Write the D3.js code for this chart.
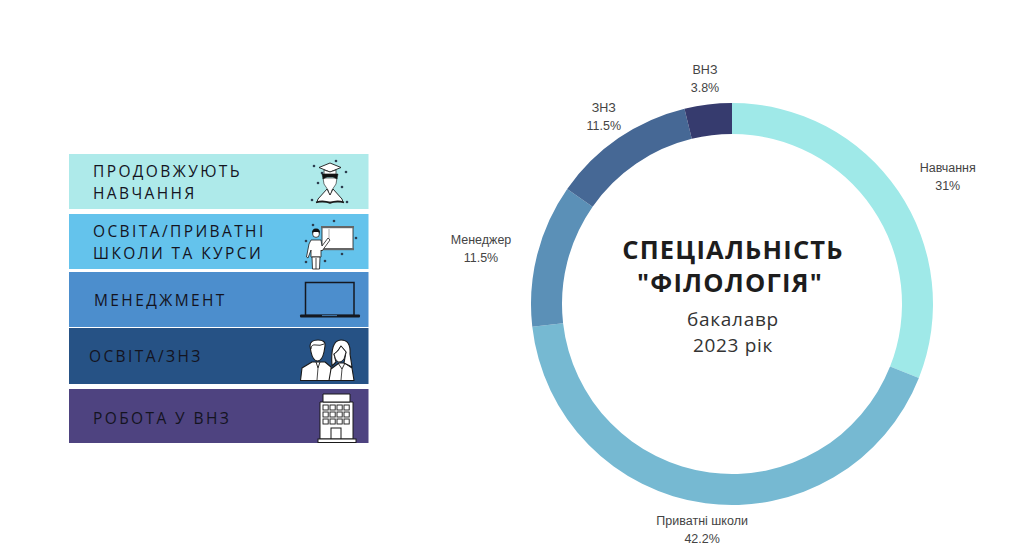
<!DOCTYPE html>
<html lang="uk">
<head>
<meta charset="utf-8">
<title>Спеціальність "Філологія"</title>
<script src="https://cdn.jsdelivr.net/npm/d3@7"></script>
<style>
html,body{margin:0;padding:0;background:#fff;overflow:hidden}
svg{display:block}
</style>
</head>
<body>
<svg id="chart" width="1024" height="547"></svg>
<script>
// Destinations of the graduates, clockwise from twelve o'clock
const sliceNames = ["Навчання", "Приватні школи", "Менеджер", "ЗНЗ", "ВНЗ"];
const sliceValues = [31, 42.2, 11.5, 11.5, 3.8];
const sliceColors = ["#9fe9e8", "#76b9d2", "#5b90b7", "#466895", "#363b6e"];

// Legend panel rows
const rowLines = [
  ["ПРОДОВЖУЮТЬ", "НАВЧАННЯ"],
  ["ОСВІТА/ПРИВАТНІ", "ШКОЛИ ТА КУРСИ"],
  ["МЕНЕДЖМЕНТ"],
  ["ОСВІТА/ЗНЗ"],
  ["РОБОТА У ВНЗ"]
];
const rowColors = ["#aeeaea", "#64c3ec", "#4c8ecd", "#265285", "#4e4380"];
const rowTops = [154, 214, 272, 328, 389];
const rowBottoms = [209, 269, 327, 384, 443];
const rowTextX = [93, 93, 94, 89, 93];
const rowTextShift = [0, 0, 0, 0, 1.5];

const titleLines = ["СПЕЦІАЛЬНІСТЬ", "\"ФІЛОЛОГІЯ\""];
const subtitleLines = ["бакалавр", "2023 рік"];

const svg = d3.select("#chart");
const sans = "'Open Sans', sans-serif";

// Donut
const cx = 732, cy = 304, outerR = 201, innerR = 170;
const pie = d3.pie().sort(null).value(d => d.value);
const arc = d3.arc().innerRadius(innerR).outerRadius(outerR);
const slices = pie(sliceValues.map((value, i) => ({ value, name: sliceNames[i], color: sliceColors[i] })));
const donut = svg.append("g").attr("transform", `translate(${cx},${cy})`);
donut.selectAll("path").data(slices).join("path")
  .attr("d", arc).attr("fill", d => d.data.color);

// Slice labels sit just outside the ring, nudged clear of the stroke
const labelArc = d3.arc().innerRadius(outerR + 26).outerRadius(outerR + 26);
const labelOffset = [[28, -4], [0, -4], [-31, -4], [0, -5], [0, -5]];
const labels = donut.selectAll("text").data(slices).join("text")
  .attr("text-anchor", "middle")
  .attr("font-family", "'Liberation Sans', Arial, sans-serif")
  .attr("font-size", 12.5)
  .attr("fill", "#444");
labels.each(function (d, i) {
  const [x, y] = labelArc.centroid(d);
  const t = d3.select(this);
  const px = x + labelOffset[i][0], py = y + labelOffset[i][1];
  t.append("tspan").attr("x", px).attr("y", py).text(d.data.name);
  t.append("tspan").attr("x", px).attr("y", py + 18).text(d.data.value + "%");
});

// Centre caption
const caption = svg.append("g").attr("text-anchor", "middle").attr("font-family", sans);
caption.selectAll("text.title").data(titleLines).join("text")
  .attr("class", "title")
  .attr("x", (d, i) => i ? 730 : 733).attr("y", (d, i) => 259 + i * 33)
  .attr("font-size", 25.5).attr("font-weight", 700)
  .attr("letter-spacing", 1.2).attr("fill", "#1d1d1d").text(d => d);
caption.selectAll("text.sub").data(subtitleLines).join("text")
  .attr("class", "sub")
  .attr("x", 733).attr("y", (d, i) => 326 + i * 26)
  .attr("font-size", 19).attr("letter-spacing", 0.7)
  .attr("fill", "#333").text(d => d);

// Legend panel
const rows = svg.append("g").selectAll("g").data(rowLines).join("g");
rows.append("rect")
  .attr("x", 69).attr("width", 299.5)
  .attr("y", (d, i) => rowTops[i])
  .attr("height", (d, i) => rowBottoms[i] - rowTops[i])
  .attr("fill", (d, i) => rowColors[i]);
rows.each(function (lines, i) {
  const mid = (rowTops[i] + rowBottoms[i]) / 2 + rowTextShift[i];
  const lineGap = 22;
  d3.select(this).selectAll("text").data(lines).join("text")
    .attr("x", rowTextX[i])
    .attr("y", (d, j) => mid + 6 + (j - (lines.length - 1) / 2) * lineGap)
    .attr("font-family", sans).attr("font-size", 15.5)
    .attr("letter-spacing", 2.4).attr("fill", "#14141f").text(d => d);
});

// Pictograms, one per legend row
const ink = "#1a1a1a";
function dots(g, pts, r) {
  g.selectAll("circle.dot").data(pts).join("circle").attr("class", "dot")
    .attr("cx", d => d[0]).attr("cy", d => d[1]).attr("r", r || 1.3).attr("fill", "#2c3e50");
}
function shape(g, d, fill, sw) {
  return g.append("path").attr("d", d).attr("fill", fill || "#fff")
    .attr("stroke", ink).attr("stroke-width", sw === undefined ? 1 : sw).attr("stroke-linejoin", "round");
}

// Graduate with an open book
const grad = svg.append("g");
dots(grad, [[314, 166], [336, 161], [346, 172], [318, 183], [342, 187], [312, 200], [347, 202], [322, 173]]);
shape(grad, "M323 178 H337 L336 184 L332 190 L331 195 H329 L328 190 L324 184 Z", "#fff", 0.6);
shape(grad, "M322 174 H338 L337 179 L333 177 H327 L323 179 Z", "#111", 0.5);
shape(grad, "M330 163 L341 167.5 L330 172 L319 167.5 Z", "#fff", 0.9);
shape(grad, "M324 170 V174 H336 V170 L330 172 Z", "#fff", 0.7);
shape(grad, "M327 189 L330 195 L333 189 L342 199 L343 202 H317 L318 199 Z", "#fff", 0.9);
shape(grad, "M316 202.5 Q323 200 330 203 Q337 200 344 202.5", "none", 1.5);

// Teacher at a board
const teacher = svg.append("g");
dots(teacher, [[313, 225], [334, 221], [356, 238], [306, 241], [342, 254], [306, 262], [325, 261]]);
shape(teacher, "M322 227 H353 V249 H322 Z", "#fff", 0.8);
teacher.append("rect").attr("x", 321).attr("y", 226).attr("width", 33).attr("height", 2.2).attr("fill", "#666");
teacher.append("rect").attr("x", 321).attr("y", 248).attr("width", 33).attr("height", 2.2).attr("fill", "#666");
teacher.append("line").attr("x1", 329).attr("y1", 239).attr("x2", 329).attr("y2", 229).attr("stroke", "#999").attr("stroke-width", 0.8);
shape(teacher, "M311 240 H321 L322 246 L328 238 L330 240 L322 251 L321 250 V257 H311 V250 L308 258 L306.5 257 L309 244 Z", "#fff", 0.8);
shape(teacher, "M312 257 H320 L319.5 269 H312.5 Z", "#fff", 0.8);
teacher.append("line").attr("x1", 316).attr("x2", 316).attr("y1", 258).attr("y2", 269).attr("stroke", ink).attr("stroke-width", 0.8);
teacher.append("circle").attr("cx", 316).attr("cy", 234).attr("r", 3.4).attr("fill", "#fff").attr("stroke", ink).attr("stroke-width", 0.8);
teacher.append("path").attr("d", "M312 234 Q311.5 228.5 316 228.5 Q320.5 228.5 320 234 L319 232 H313 Z").attr("fill", "#111");

// Laptop
const laptop = svg.append("g");
laptop.append("rect").attr("x", 305.5).attr("y", 282.5).attr("width", 48.5).attr("height", 33)
  .attr("fill", "none").attr("stroke", "#141820").attr("stroke-width", 1.5);
laptop.append("rect").attr("x", 300).attr("y", 314.5).attr("width", 60).attr("height", 3).attr("rx", 1).attr("fill", "#141820");
laptop.append("rect").attr("x", 322).attr("y", 315).attr("width", 15).attr("height", 1.1).attr("fill", "#3d6f9e");

// Two colleagues
const people = svg.append("g");
shape(people, "M300.5 380.5 L302 368 L312 362 H325 L331 367 L332 380.5 Z", "#fff", 1.1);
shape(people, "M329 380.5 L331 369 L339 363 H345 L352 368 L354 380.5 Z", "#fff", 1.1);
shape(people, "M311 352 L310 346 Q310 340 318 340 Q326 340 325 346 L324 352 Q322 361 317.5 361 Q313 361 311 352 Z", "#fff", 1.1);
shape(people, "M311 349 Q311 344 316 345 Q320 346 324 344", "none", 0.9);
shape(people, "M316 362 L318 368 L320 362", "none", 0.9);
shape(people, "M318 368 L317 380", "none", 0.8);
shape(people, "M332 366 Q330 340 341 340 Q351 340 350 354 L352 367 L344 363 L346 352 L341 346 Q337 353 334 354 L336 362 Z", "#fff", 1.1);
shape(people, "M334 354 Q338 352 341 346 L346 352 L344 359 Q341 363 338 362 Q335 360 334 354 Z", "#fff", 0.9);
shape(people, "M338 363 L342 369 L345 363", "none", 0.9);
shape(people, "M342 369 L341 380", "none", 0.8);

// Office building
const building = svg.append("g");
shape(building, "M320 402 H353 V439 H320 Z", "#fff", 1);
shape(building, "M323 394 H350 V402 H323 Z", "#fff", 1);
const windowCols = [323, 330, 337, 344];
const windowRows = [405, 412, 419];
windowRows.forEach(y => windowCols.forEach(x => {
  building.append("rect").attr("x", x).attr("y", y).attr("width", 5.2).attr("height", 5)
    .attr("fill", "#fff").attr("stroke", ink).attr("stroke-width", 0.9);
}));
building.append("rect").attr("x", 331).attr("y", 428).attr("width", 10).attr("height", 11)
  .attr("fill", "#fff").attr("stroke", ink).attr("stroke-width", 1);
building.append("rect").attr("x", 318).attr("y", 439).attr("width", 38).attr("height", 3.5)
  .attr("fill", "#fff").attr("stroke", ink).attr("stroke-width", 1);
</script>
</body>
</html>
